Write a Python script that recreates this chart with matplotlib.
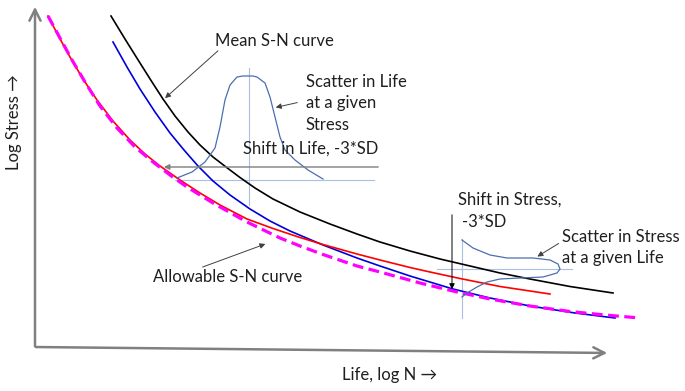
import matplotlib
matplotlib.use("Agg")
import matplotlib.pyplot as plt

# -------------------------
# Curve data (image pixel coords, y down)
# -------------------------
mean_x = [111, 125, 140, 152, 163, 175, 188, 200, 213, 226, 240, 255, 273, 300, 330, 357, 380, 410, 440, 470, 500, 530, 570, 613]
mean_y = [16, 39, 63, 82, 99, 116, 132, 145, 157, 167, 177.5, 188, 199, 212, 224, 234, 242, 251, 259, 266, 273, 279, 286.5, 293]

shift_x = [113, 127, 140, 155, 170, 184, 198, 213, 230, 250, 270, 290, 323, 357, 380, 410, 453, 490, 530, 575, 615]
shift_y = [42, 67, 89, 112, 133, 150, 166, 181, 195, 209, 221, 231, 245, 258, 266, 276, 289, 298, 306, 313, 318]

stress_x = [48, 59, 70, 83, 97, 113, 130, 145, 160, 180, 200, 220, 247, 273, 300, 323, 357, 380, 410, 430, 460, 500, 550]
stress_y = [16, 37, 57, 79, 100, 121, 140, 154, 166, 180, 193, 205, 219, 228.5, 237.5, 244.5, 254, 260, 267.5, 272, 278.5, 286.5, 294]

allow_x = [48, 60, 72, 85, 100, 117, 135, 153, 172, 187, 213, 247, 280, 300, 323, 357, 380, 400, 420, 455, 490, 530, 570, 605, 640]
allow_y = [16, 38, 60, 82, 106, 128, 147, 162, 176.5, 187, 203, 222, 238, 246, 254.5, 266, 272, 277.5, 283, 291.5, 299, 306, 311.5, 315, 318]

# scatter in life (bell over the horizontal)
life_x = [177, 192, 205, 215, 220, 225, 230, 237, 243, 248, 253, 257, 265, 270, 275, 280, 285, 295, 308, 323]
life_y = [178, 172, 162, 148, 127, 100, 85, 77, 76, 76, 76, 77, 83, 97, 117, 137, 150, 160, 170, 179]

# scatter in stress (bell turned sideways)
str_x = [462, 473, 490, 507, 533, 550, 558, 560, 557, 543, 520, 500, 487, 477, 467, 462]
str_y = [240, 248, 255, 258, 258, 260, 264, 269, 273, 277, 278, 279, 282, 287, 293, 297]

fig = plt.figure(figsize=(6.85, 3.91), dpi=100)
ax = fig.add_axes([0, 0, 1, 1])
ax.set_xlim(0, 685)
ax.set_ylim(391, 0)
ax.axis("off")

plt.rcParams["font.family"] = ["Lato", "DejaVu Sans"]
txt = "#1f1f1f"
fs = 12

# axes arrows
ax.annotate("", xy=(35, 4), xytext=(35, 349),
            arrowprops=dict(arrowstyle="->", color="#808080", lw=1.8, mutation_scale=20))
ax.annotate("", xy=(610, 353), xytext=(33, 347),
            arrowprops=dict(arrowstyle="->", color="#808080", lw=1.8, mutation_scale=20))

# guide lines
ax.plot([249, 249], [68, 205], color="#a9bfe3", lw=0.8)
ax.plot([175, 374], [180, 180], color="#a9bfe3", lw=0.8)
ax.plot([462, 462], [239, 318], color="#a9bfe3", lw=0.8)
ax.plot([437, 572], [269, 269], color="#a9bfe3", lw=0.8)

# curves
ax.plot(mean_x, mean_y, color="black", lw=1.2)
ax.plot(shift_x, shift_y, color="#0000dd", lw=1.2)
ax.plot(stress_x, stress_y, color="#ff0000", lw=1.2)
ax.plot(allow_x, allow_y, color="#ff00ff", lw=2.3, dashes=(3.4, 1.7))
ax.plot(life_x, life_y, color="#4a6fae", lw=0.9)
ax.plot(str_x, str_y, color="#4a6fae", lw=0.9)

# shift arrows
ax.annotate("", xy=(161, 167), xytext=(381, 167),
            arrowprops=dict(arrowstyle="-|>", color="#7f7f7f", lw=1.0, mutation_scale=8))
ax.annotate("", xy=(452, 292), xytext=(452, 212),
            arrowprops=dict(arrowstyle="-|>", color="black", lw=0.7, mutation_scale=8))

# labels with pointers
arrow = dict(arrowstyle="-|>", color="#404040", lw=0.7, mutation_scale=8)
ax.annotate("", xy=(163, 100), xytext=(220, 49), arrowprops=arrow)
ax.annotate("", xy=(273, 108), xytext=(300, 102), arrowprops=arrow)
ax.annotate("", xy=(535, 258), xytext=(561, 242), arrowprops=arrow)
ax.annotate("", xy=(268, 243), xytext=(200, 268), arrowprops=arrow)

ax.text(215, 41, "Mean S-N curve", fontsize=fs, color=txt, va="center")
ax.text(306, 82, "Scatter in Life", fontsize=fs, color=txt, va="center")
ax.text(306, 103, "at a given", fontsize=fs, color=txt, va="center")
ax.text(306, 125, "Stress", fontsize=fs, color=txt, va="center")
ax.text(243, 149, "Shift in Life, -3*SD", fontsize=fs, color=txt, va="center")
ax.text(458, 200, "Shift in Stress,", fontsize=fs, color=txt, va="center")
ax.text(462, 222, "-3*SD", fontsize=fs, color=txt, va="center")
ax.text(562, 237, "Scatter in Stress", fontsize=fs, color=txt, va="center")
ax.text(562, 258, "at a given Life", fontsize=fs, color=txt, va="center")
ax.text(153, 277, "Allowable S-N curve", fontsize=fs, color=txt, va="center")
ax.text(14, 122, "Log Stress \u2192", fontsize=fs, color=txt, va="center", ha="center", rotation=90)
ax.text(390, 375, "Life, log N \u2192", fontsize=fs, color=txt, va="center", ha="center")

fig.savefig("out.png", dpi=100)
